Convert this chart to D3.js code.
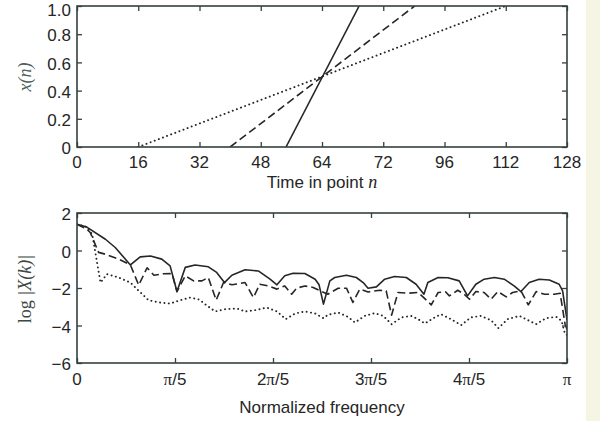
<!DOCTYPE html>
<html>
<head>
<meta charset="utf-8">
<script src="https://cdn.jsdelivr.net/npm/d3@7"></script>
<style>
  html, body { margin: 0; padding: 0; background: #ffffff; }
  svg { display: block; }
</style>
</head>
<body>
<svg id="chart" width="600" height="421"></svg>
<script>
// ---------- DATA ----------
const timeTicks = [0, 16, 32, 48, 64, 80, 96, 112, 128];
const timeTickLabels = ["0", "16", "32", "48", "64", "72", "96", "112", "128"];
const ampTicks = [0, 0.2, 0.4, 0.6, 0.8, 1.0];
const ampTickLabels = ["0", "0.2", "0.4", "0.6", "0.8", "1.0"];

// ramps: [n, x(n)]
const rampSolid  = [[54.6, 0], [73.7, 1]];
const rampDashed = [[40, 0], [88.2, 1]];
const rampDotted = [[16, 0], [112, 1]];

const freqTicks = [0, 0.2, 0.4, 0.6, 0.8, 1.0];          // in units of pi
const freqTickLabels = [["0", ""], ["π", "/5"], ["2π", "/5"], ["3π", "/5"], ["4π", "/5"], ["π", ""]];
const logTicks = [-6, -4, -2, 0, 2];
const logTickLabels = ["−6", "−4", "−2", "0", "2"];

// spectra: [frequency / pi, log|X(k)|]
const specSolid = [
  [0, 1.40], [0.020, 1.25], [0.058, 0.60], [0.078, 0.16], [0.109, -0.77],
  [0.129, -0.34], [0.150, -0.29], [0.173, -0.46], [0.190, -0.82], [0.204, -2.19],
  [0.221, -0.90], [0.241, -0.77], [0.268, -0.87], [0.285, -1.17], [0.301, -1.71],
  [0.316, -1.32], [0.343, -1.03], [0.370, -1.09], [0.394, -1.53], [0.408, -1.83],
  [0.424, -1.35], [0.441, -1.21], [0.465, -1.23], [0.486, -1.53], [0.494, -1.83],
  [0.503, -2.86], [0.516, -1.62], [0.526, -1.44], [0.550, -1.32], [0.570, -1.44],
  [0.584, -1.71], [0.594, -2.01], [0.611, -1.94], [0.628, -1.53], [0.648, -1.39],
  [0.672, -1.44], [0.692, -1.80], [0.708, -2.33], [0.716, -1.71], [0.737, -1.44],
  [0.757, -1.45], [0.780, -1.62], [0.797, -2.42], [0.814, -1.80], [0.831, -1.53],
  [0.852, -1.44], [0.872, -1.53], [0.892, -1.89], [0.906, -2.19], [0.923, -1.71],
  [0.943, -1.53], [0.964, -1.57], [0.984, -1.80], [0.991, -2.15], [1.0, -3.70]
];
const specDashed = [
  [0, 1.40], [0.020, 1.14], [0.027, 0.96], [0.044, -0.10], [0.058, -0.20],
  [0.085, -0.46], [0.109, -0.77], [0.126, -1.85], [0.143, -0.92], [0.157, -1.32],
  [0.177, -1.24], [0.194, -1.23], [0.204, -2.19], [0.221, -1.35], [0.238, -1.62],
  [0.255, -1.62], [0.268, -1.44], [0.284, -2.65], [0.299, -1.71], [0.316, -1.83],
  [0.343, -1.71], [0.360, -2.51], [0.373, -1.80], [0.390, -1.89], [0.408, -2.06],
  [0.424, -1.89], [0.438, -2.33], [0.448, -2.01], [0.465, -1.89], [0.482, -1.97],
  [0.496, -2.15], [0.512, -2.33], [0.533, -2.01], [0.550, -2.01], [0.563, -2.77],
  [0.577, -2.06], [0.594, -2.21], [0.618, -2.12], [0.631, -2.15], [0.642, -3.45],
  [0.655, -2.24], [0.676, -2.28], [0.696, -2.24], [0.706, -2.47], [0.723, -2.90],
  [0.737, -2.24], [0.752, -2.20], [0.760, -2.42], [0.777, -2.12], [0.790, -2.33],
  [0.801, -2.60], [0.814, -2.19], [0.831, -2.24], [0.845, -2.60], [0.859, -2.19],
  [0.876, -2.47], [0.889, -2.24], [0.906, -2.15], [0.921, -2.90], [0.937, -2.19],
  [0.954, -2.33], [0.974, -2.33], [0.986, -2.28], [0.996, -3.93], [1.0, -4.20]
];
const specDotted = [
  [0, 1.40], [0.020, 1.25], [0.031, 0.87], [0.048, -1.71], [0.061, -1.26],
  [0.085, -1.44], [0.109, -1.71], [0.126, -2.15], [0.146, -2.65], [0.167, -2.77],
  [0.190, -2.83], [0.211, -2.65], [0.231, -2.51], [0.250, -2.62], [0.261, -2.86],
  [0.282, -3.25], [0.302, -3.13], [0.326, -3.09], [0.343, -3.25], [0.367, -3.17],
  [0.387, -3.04], [0.408, -3.25], [0.426, -3.66], [0.445, -3.36], [0.465, -3.25],
  [0.486, -3.36], [0.503, -3.61], [0.512, -3.43], [0.533, -3.31], [0.553, -3.54],
  [0.567, -3.84], [0.587, -3.49], [0.608, -3.34], [0.625, -3.49], [0.642, -3.93],
  [0.662, -3.57], [0.682, -3.49], [0.696, -3.66], [0.710, -3.89], [0.730, -3.57],
  [0.743, -3.40], [0.763, -3.66], [0.784, -3.98], [0.804, -3.57], [0.824, -3.49],
  [0.845, -3.72], [0.860, -4.14], [0.879, -3.66], [0.903, -3.49], [0.923, -3.75],
  [0.937, -3.93], [0.957, -3.61], [0.978, -3.54], [0.989, -3.75], [0.996, -4.46],
  [1.0, -4.50]
];

// ---------- LAYOUT / STYLE ----------
const svg = d3.select("#chart");
const W = 600, H = 421;
const frameColor = "#34413c";
const lineColor = "#262626";
const textColor = "#262626";
const sans = "'Liberation Sans', Arial, Helvetica, sans-serif";
const serif = "'Liberation Serif', 'Times New Roman', serif";
const fontSize = 17;
const tickLen = 5;

svg.append("rect").attr("x", 0).attr("y", 0).attr("width", W).attr("height", H).attr("fill", "#ffffff");
svg.append("rect").attr("x", 586).attr("y", 0).attr("width", 14).attr("height", H).attr("fill", "#f6f4e3");

const left = 77, right = 567;

const styles = {
  solid:  { dash: null, width: 1.6, cap: "butt" },
  dashed: { dash: "8,4", width: 1.6, cap: "butt" },
  dotted: { dash: "0.1,4.3", width: 1.9, cap: "round" }
};

function drawPanel(cfg) {
  const x = d3.scaleLinear().domain(cfg.xDomain).range([left, right]);
  const y = d3.scaleLinear().domain(cfg.yDomain).range([cfg.bottom, cfg.top]);
  const g = svg.append("g");

  const clipId = "clip" + cfg.id;
  svg.append("clipPath").attr("id", clipId)
    .append("rect").attr("x", left).attr("y", cfg.top)
    .attr("width", right - left).attr("height", cfg.bottom - cfg.top);

  // series
  const line = d3.line().x(d => x(d[0])).y(d => y(d[1]));
  const sg = g.append("g").attr("clip-path", `url(#${clipId})`);
  cfg.series.forEach(s => {
    const st = styles[s.style];
    sg.append("path").attr("d", line(s.data))
      .attr("fill", "none").attr("stroke", lineColor)
      .attr("stroke-width", st.width)
      .attr("stroke-linecap", st.cap)
      .attr("stroke-linejoin", "round")
      .attr("stroke-dasharray", st.dash);
  });

  // ticks via d3 axes (inside ticks on all four sides)
  const axB = d3.axisBottom(x).tickValues(cfg.xTicks).tickSize(-tickLen).tickFormat("");
  const axT = d3.axisTop(x).tickValues(cfg.xTicks).tickSize(-tickLen).tickFormat("");
  const axL = d3.axisLeft(y).tickValues(cfg.yTicks).tickSize(-tickLen).tickFormat("");
  const axR = d3.axisRight(y).tickValues(cfg.yTicks).tickSize(-tickLen).tickFormat("");
  [[axB, `translate(0,${cfg.bottom})`], [axT, `translate(0,${cfg.top})`],
   [axL, `translate(${left},0)`], [axR, `translate(${right},0)`]].forEach(([ax, tr]) => {
    const a = g.append("g").attr("transform", tr).call(ax);
    a.select(".domain").remove();
    a.selectAll(".tick line").attr("stroke", frameColor).attr("stroke-width", 1.3);
  });

  // frame
  g.append("rect").attr("x", left).attr("y", cfg.top)
    .attr("width", right - left).attr("height", cfg.bottom - cfg.top)
    .attr("fill", "none").attr("stroke", frameColor).attr("stroke-width", 1.6);

  // y tick labels (kept fully inside the picture at the top edge)
  g.selectAll(".ylab").data(cfg.yTicks).enter().append("text")
    .attr("x", 71).attr("y", d => Math.max(y(d) + 7.1, 15.6))
    .attr("text-anchor", "end")
    .attr("font-family", sans).attr("font-size", fontSize).attr("fill", textColor)
    .text((d, i) => cfg.yTickLabels[i]);

  // x tick labels
  const xl = g.selectAll(".xlab").data(cfg.xTicks).enter().append("text")
    .attr("x", d => x(d)).attr("y", cfg.bottom + cfg.xLabelOffset)
    .attr("text-anchor", "middle")
    .attr("font-family", sans).attr("font-size", fontSize).attr("fill", textColor);
  xl.each(function(d, i) {
    const lab = cfg.xTickLabels[i];
    const t = d3.select(this);
    if (Array.isArray(lab)) {
      if (lab[0].includes("π")) {
        const pre = lab[0].replace("π", "");
        if (pre) t.append("tspan").text(pre);
        t.append("tspan").attr("font-family", serif).text("π");
        if (lab[1]) t.append("tspan").text(lab[1]);
      } else {
        t.text(lab[0] + lab[1]);
      }
    } else {
      t.text(lab);
    }
  });
  return { x, y, g };
}

// ---------- TOP PANEL ----------
drawPanel({
  id: 1, top: 6, bottom: 147,
  xDomain: [0, 128], yDomain: [0, 1],
  xTicks: timeTicks, xTickLabels: timeTickLabels,
  yTicks: ampTicks, yTickLabels: ampTickLabels,
  xLabelOffset: 21,
  series: [
    { data: rampSolid, style: "solid" },
    { data: rampDashed, style: "dashed" },
    { data: rampDotted, style: "dotted" }
  ]
});

const tl = svg.append("text").attr("x", 322).attr("y", 188)
  .attr("text-anchor", "middle").attr("font-family", sans)
  .attr("font-size", fontSize).attr("fill", textColor);
tl.append("tspan").text("Time in point ");
tl.append("tspan").attr("font-family", serif).attr("font-style", "italic").attr("font-size", 18).text("n");

svg.append("text").attr("transform", "translate(31,77) rotate(-90)")
  .attr("text-anchor", "middle").attr("font-family", serif)
  .attr("font-style", "italic").attr("font-size", 18).attr("fill", "#4d605b")
  .text("x(n)");

// ---------- BOTTOM PANEL ----------
drawPanel({
  id: 2, top: 213, bottom: 363,
  xDomain: [0, 1], yDomain: [-6, 2],
  xTicks: freqTicks, xTickLabels: freqTickLabels,
  yTicks: logTicks, yTickLabels: logTickLabels,
  xLabelOffset: 22,
  series: [
    { data: specSolid, style: "solid" },
    { data: specDashed, style: "dashed" },
    { data: specDotted, style: "dotted" }
  ]
});

svg.append("text").attr("x", 322).attr("y", 413)
  .attr("text-anchor", "middle").attr("font-family", sans)
  .attr("font-size", fontSize).attr("fill", textColor)
  .text("Normalized frequency");

const yl2 = svg.append("text").attr("transform", "translate(31,289) rotate(-90)")
  .attr("text-anchor", "middle").attr("font-family", serif)
  .attr("font-size", 18).attr("fill", "#3c4744");
yl2.append("tspan").text("log ");
yl2.append("tspan").attr("font-style", "italic").text("|X(k)|");
</script>
</body>
</html>
